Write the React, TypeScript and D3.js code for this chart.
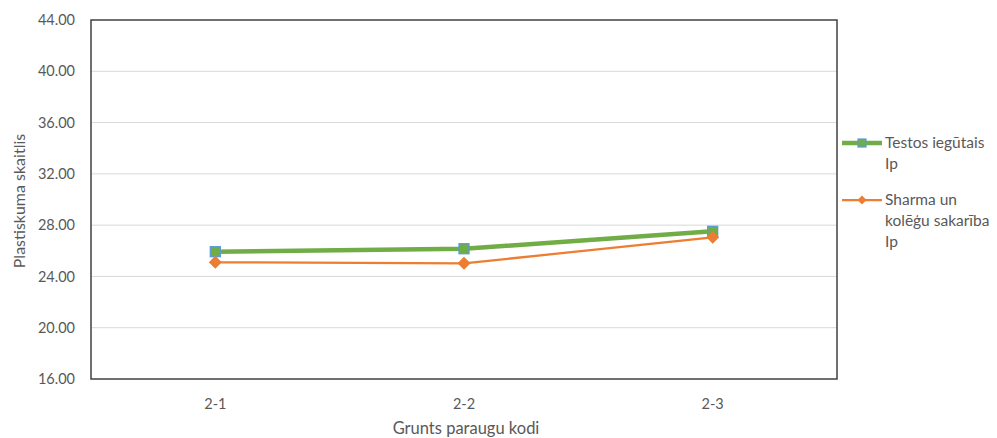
import React from "react";
import * as d3 from "d3";

const categories = ["2-1", "2-2", "2-3"];
const testosValues = [25.93, 26.16, 27.52];
const sharmaValues = [25.1, 25.02, 27.05];
const yTicks = [16, 20, 24, 28, 32, 36, 40, 44];
const seriesNames = [["Testos iegūtais", "Ip"], ["Sharma un", "kolēģu sakarība", "Ip"]];

const W = 997, H = 438;
const M = { left: 91, right: 837, top: 20, bottom: 379 };
const FONT = "Lato, 'Open Sans', sans-serif";
const TXT = "#595959";

export default function App() {
  const x = d3.scaleBand<string>().domain(categories).range([M.left, M.right]);
  const y = d3.scaleLinear().domain([16, 44]).range([M.bottom, M.top]);
  const cx = (c: string) => (x(c) as number) + x.bandwidth() / 2;
  const line = d3.line<number>().x((_, i) => cx(categories[i])).y((d) => y(d));
  const diamond = (px: number, py: number, r: number) =>
    `M${px},${py - r}L${px + r},${py}L${px},${py + r}L${px - r},${py}Z`;

  return (
    <svg width={W} height={H} style={{ position: "absolute", left: 0, top: 0, background: "#fff" }} fontFamily={FONT}>
      {yTicks.slice(1, -1).map((t) => (
        <line key={t} x1={M.left} x2={M.right} y1={y(t)} y2={y(t)} stroke="#d9d9d9" strokeWidth={1} />
      ))}
      <rect x={M.left} y={M.top} width={M.right - M.left} height={M.bottom - M.top} fill="none" stroke="#404040" strokeWidth={1.5} />
      {yTicks.map((t) => (
        <text key={t} x={75} y={y(t)} dy="0.35em" textAnchor="end" fontSize={14.5} fill={TXT}>
          {t.toFixed(2)}
        </text>
      ))}
      {categories.map((c) => (
        <text key={c} x={cx(c)} y={404} dy="0.35em" textAnchor="middle" fontSize={14.5} fill={TXT}>
          {c}
        </text>
      ))}
      <text x={466} y={428} dy="0.35em" textAnchor="middle" fontSize={16.5} fill={TXT}>
        Grunts paraugu kodi
      </text>
      <text transform={`translate(19,${201}) rotate(-90)`} textAnchor="middle" dy="0.35em" fontSize={16} fill={TXT}>
        Plastiskuma skaitlis
      </text>

      <path d={line(testosValues) as string} fill="none" stroke="#70AD47" strokeWidth={4.5} strokeLinejoin="round" />
      {testosValues.map((v, i) => (
        <rect key={i} x={cx(categories[i]) - 5} y={y(v) - 5} width={10} height={10} fill="#70AD47" stroke="#5B9BD5" strokeWidth={1.3} />
      ))}
      <path d={line(sharmaValues) as string} fill="none" stroke="#ED7D31" strokeWidth={2.25} strokeLinejoin="round" />
      {sharmaValues.map((v, i) => (
        <path key={i} d={diamond(cx(categories[i]), y(v), 6.5)} fill="#ED7D31" />
      ))}

      {/* legend */}
      <line x1={842} x2={882} y1={143} y2={143} stroke="#70AD47" strokeWidth={4.5} />
      <rect x={858} y={139} width={8} height={8} fill="#70AD47" stroke="#5B9BD5" strokeWidth={1.2} />
      {seriesNames[0].map((s, i) => (
        <text key={s} x={885} y={143 + i * 21} dy="0.35em" fontSize={15.5} fill={TXT}>{s}</text>
      ))}
      <line x1={842} x2={882} y1={200} y2={200} stroke="#ED7D31" strokeWidth={2.25} />
      <path d={diamond(862, 200, 4.5)} fill="#ED7D31" />
      {seriesNames[1].map((s, i) => (
        <text key={s} x={885} y={200 + i * 21} dy="0.35em" fontSize={15.5} fill={TXT}>{s}</text>
      ))}
    </svg>
  );
}
